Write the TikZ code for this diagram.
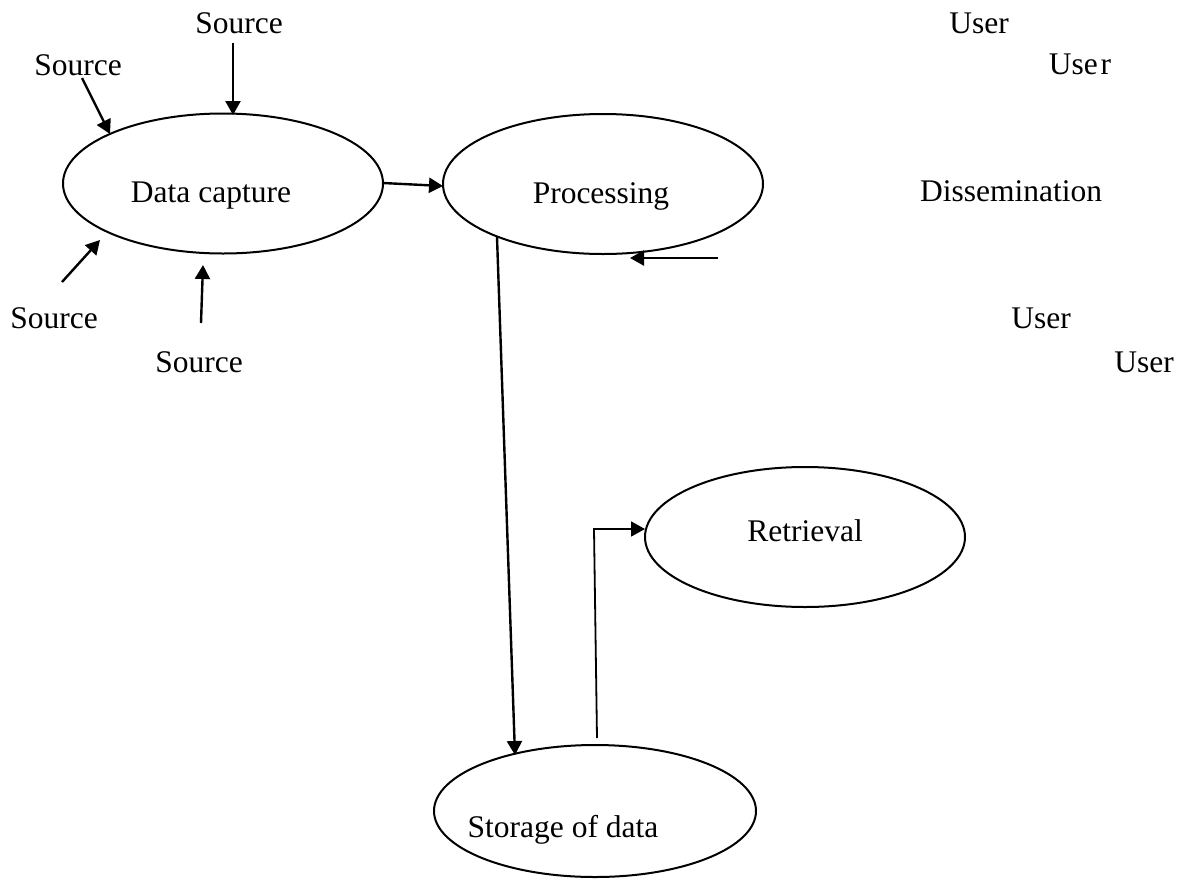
\documentclass[tikz,border=0pt]{standalone}
\usepackage{fontspec}
\setmainfont{Liberation Serif}
\usetikzlibrary{shapes.geometric,arrows.meta}
\begin{document}
\begin{tikzpicture}[x=1pt,y=-1pt,
  stage/.style={draw,line width=2pt,ellipse,inner sep=0pt,
    minimum width=320pt,minimum height=140pt},
  lbl/.style={font=\fontsize{31.5}{36}\selectfont,inner sep=0pt,anchor=base},
  flow/.style={line width=2.4pt,-{Triangle[length=14pt,width=15pt]}},
  thin flow/.style={line width=1.8pt,-{Triangle[length=14pt,width=15pt]}}]
\useasboundingbox (0,0) rectangle (1179,879);

% process stages
\node[stage] (cap) at (223,183.5) {};
\node[stage] (proc) at (603,184) {};
\node[stage] (ret) at (805,537) {};
\node[stage,minimum width=322pt,minimum height=132pt] (sto) at (595,811) {};

% stage labels
\node[lbl] (tcap) at (211,202) {Data capture};
\node[lbl] (tproc) at (601,203) {Processing};
\node[lbl] (tret) at (805,541) {Retrieval};
\node[lbl] (tsto) at (563,837) {Storage of data};
\node[lbl] (tdis) at (1011,201) {Dissemination};

% sources
\node[lbl] (s1) at (239,33) {Source};
\node[lbl] (s2) at (78,75) {Source};
\node[lbl] (s3) at (54,328) {Source};
\node[lbl] (s4) at (199,372) {Source};

% users
\node[lbl] (u1) at (979,33) {User};
\node[lbl] (u2) at (1080,74) {Use\kern3pt r};
\node[lbl] (u3) at (1041,328) {User};
\node[lbl] (u4) at (1144,372) {User};

% connector end points
\coordinate (a1) at (233,43);
\coordinate (b1) at (233,115);
\coordinate (a2) at (82,78);
\coordinate (b2) at (110,134);
\coordinate (a3) at (62,282);
\coordinate (b3) at (100,240);
\coordinate (a4) at (201,323);
\coordinate (b4) at (203,265);
\coordinate (c1) at (383,183);
\coordinate (c2) at (443,186);
\coordinate (d1) at (718,258);
\coordinate (d2) at (630,258);
\coordinate (e1) at (497,237);
\coordinate (e2) at (515,755);
\coordinate (f1) at (597,738);
\coordinate (f2) at (594,529);
\coordinate (f3) at (645,529);

% inputs from sources
\draw[flow] (a1) -- (b1);
\draw[flow] (a2) -- (b2);
\draw[flow] (a3) -- (b3);
\draw[flow] (a4) -- (b4);

% main flow
\draw[flow] (c1) -- (c2);
\draw[flow] (d1) -- (d2);
\draw[flow] (e1) -- (e2);
\draw[thin flow] (f1) -- (f2) -- (f3);
\end{tikzpicture}
\end{document}
